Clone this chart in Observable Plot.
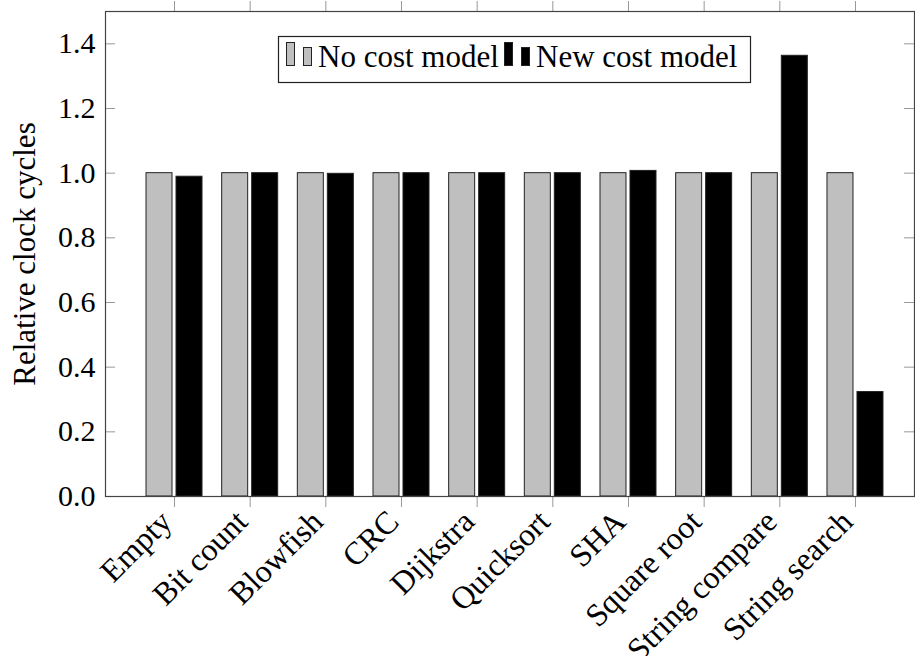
<!DOCTYPE html>
<html>
<head>
<meta charset="utf-8">
<script src="https://cdn.jsdelivr.net/npm/d3@7"></script>
<script src="https://cdn.jsdelivr.net/npm/@observablehq/plot@0.6"></script>
<style>
  html, body { margin: 0; padding: 0; background: #fff; }
  #chart { position: relative; width: 915px; height: 656px; }
</style>
</head>
<body>
<div id="chart"></div>
<script>
const categories = ["Empty", "Bit count", "Blowfish", "CRC", "Dijkstra", "Quicksort", "SHA", "Square root", "String compare", "String search"];
const seriesNames = ["No cost model", "New cost model"];
const noCostModel = [1.0, 1.0, 1.0, 1.0, 1.0, 1.0, 1.0, 1.0, 1.0, 1.0];
const newCostModel = [0.989, 1.0, 0.998, 1.0, 1.0, 1.0, 1.007, 1.0, 1.363, 0.323];
const yTicks = [0.0, 0.2, 0.4, 0.6, 0.8, 1.0, 1.2, 1.4];
const seriesColors = ["#bfbfbf", "#000000"];

const FONT = "'Liberation Serif', serif";
const FS = 31;
const FS_X = 32;
const FS_TICK = 30;

const W = 915, H = 656;
const mL = 105, mR = 1, mT = 11, mB = 160;
const xDomain = [-0.912, 9.78];
const pxPerUnit = (W - mL - mR) / (xDomain[1] - xDomain[0]);
const barW = 26 / pxPerUnit;   // bar width in x units
const gap = 2 / pxPerUnit;     // half gap between bars in a group
const tickLen = 10 / pxPerUnit;

const rows = [];
categories.forEach((c, i) => {
  rows.push({i, series: seriesNames[0], value: noCostModel[i], x1: i - gap - barW, x2: i - gap});
  rows.push({i, series: seriesNames[1], value: newCostModel[i], x1: i + gap, x2: i + gap + barW});
});

const idx = d3.range(categories.length);

const plot = Plot.plot({
  width: W,
  height: H,
  marginLeft: mL,
  marginRight: mR,
  marginTop: mT,
  marginBottom: mB,
  style: {fontFamily: FONT, fontSize: FS + "px", background: "#fff", color: "#000"},
  x: {type: "linear", domain: xDomain, axis: null},
  y: {domain: [0, 1.5], axis: null},
  color: {domain: seriesNames, range: seriesColors},
  marks: [
    Plot.rectY(rows, {x1: "x1", x2: "x2", y: "value", fill: "series", stroke: "#222", strokeWidth: 1}),
    // inward y ticks, left and right
    Plot.ruleY(yTicks, {y: d => d, x1: xDomain[0], x2: xDomain[0] + tickLen, stroke: "#999", strokeWidth: 1}),
    Plot.ruleY(yTicks, {y: d => d, x1: xDomain[1] - tickLen, x2: xDomain[1], stroke: "#999", strokeWidth: 1}),
    // outward x ticks, bottom and top
    Plot.axisX(idx, {anchor: "bottom", tickSize: 11, tickFormat: () => "", stroke: "#999", label: null}),
    Plot.axisX(idx, {anchor: "top", tickSize: 11, tickFormat: () => "", stroke: "#999", label: null}),
    // rotated category labels
    Plot.text(idx, {x: d => d, text: d => categories[d], frameAnchor: "bottom", rotate: -45, textAnchor: "end", lineAnchor: "top", dy: 11, dx: -17, fontSize: FS_X, fill: "#000"}),
    Plot.axisY(yTicks, {anchor: "left", tickSize: 0, tickPadding: 10, tickFormat: d3.format(".1f"), fill: "#000", fontSize: FS_TICK, label: null}),
    Plot.frame({stroke: "#444", strokeWidth: 1.2}),
    Plot.text(["Relative clock cycles"], {text: d => d, frameAnchor: "left", textAnchor: "middle", rotate: -90, dx: -80, fontSize: FS, fill: "#000"})
  ]
});

document.getElementById("chart").appendChild(plot);

// Legend inside the plot area
const svg = d3.select(plot);
const lg = svg.append("g").attr("class", "legend");
lg.append("rect").attr("x", 278.5).attr("y", 36.5).attr("width", 472).attr("height", 46)
  .attr("fill", "#fff").attr("stroke", "#222").attr("stroke-width", 1.2);
const items = [
  {name: seriesNames[0], color: seriesColors[0], x: 286},
  {name: seriesNames[1], color: seriesColors[1], x: 504}
];
items.forEach(it => {
  lg.append("rect").attr("x", it.x + 0.5).attr("y", 42.5).attr("width", 8).attr("height", 23)
    .attr("fill", it.color).attr("stroke", "#222").attr("stroke-width", 1);
  lg.append("rect").attr("x", it.x + 17.5).attr("y", 47.5).attr("width", 8).attr("height", 18)
    .attr("fill", it.color).attr("stroke", "#222").attr("stroke-width", 1);
  lg.append("text").attr("x", it.x + 32).attr("y", 67).attr("text-anchor", "start")
    .attr("font-family", FONT).attr("font-size", FS).attr("fill", "#000").text(it.name);
});
</script>
</body>
</html>
